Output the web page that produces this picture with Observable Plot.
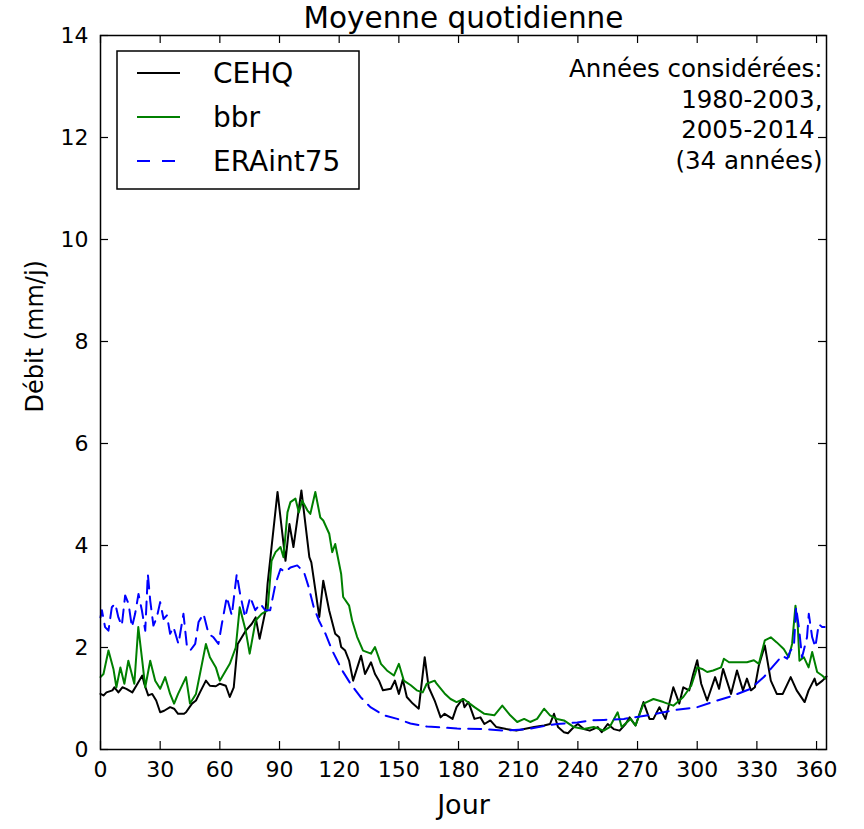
<!DOCTYPE html>
<html>
<head>
<meta charset="utf-8">
<script src="https://cdn.jsdelivr.net/npm/d3@7"></script>
<script src="https://cdn.jsdelivr.net/npm/@observablehq/plot@0.6"></script>
<style>
  html, body { margin: 0; padding: 0; background: white; }
  #chart { position: relative; width: 864px; height: 829px; }
</style>
</head>
<body>
<div id="chart"></div>
<script>
// ---- Data ----
const seriesNames = ["CEHQ", "bbr", "ERAint75"];
const seriesColors = ["#000000", "#008000", "#0000ff"];

const cehqDay = [0,1.5,3,6,7,9,11,13,16,18,21,22,24,26,28,30,32,35,37,39,42,43,46,48,50,53,55,58,60,63,65,67,69,73,76,78,80,83,84,86,89,93,95,97,101,105,106,110,112,115,118,120,121,123,125,127,131,133,136,138,140,142,146,148,150,152,154,157,160,163,165,168,171,173,177,179,182,183,185,188,191,193,196,199,204,209,213,218,223,226,228,230,233,235,238,240,243,246,250,252,255,258,261,264,266,269,273,276,278,281,284,288,291,293,296,298,300,302,305,309,311,313,317,320,323,325,327,329,331,334,337,340,343,347,350,354,356,359,360,363,365];
const cehqVal = [1.09,1.06,1.12,1.16,1.22,1.12,1.22,1.19,1.12,1.25,1.45,1.29,1.06,1.09,0.96,0.73,0.76,0.83,0.80,0.70,0.70,0.73,0.90,0.96,1.12,1.35,1.25,1.24,1.29,1.25,1.03,1.22,2.07,2.33,2.46,2.59,2.17,2.73,3.25,3.97,5.05,3.70,4.42,3.97,5.08,3.77,3.67,2.60,3.31,2.72,2.27,2.20,2.01,1.94,1.74,1.35,1.84,1.48,1.71,1.48,1.35,1.16,1.19,1.35,1.09,1.37,1.03,0.90,0.80,1.81,1.22,0.96,0.63,0.70,0.60,0.83,0.99,0.83,0.93,0.60,0.63,0.50,0.57,0.44,0.40,0.37,0.40,0.44,0.47,0.50,0.70,0.44,0.34,0.32,0.44,0.50,0.40,0.37,0.44,0.34,0.50,0.40,0.37,0.50,0.63,0.47,0.93,0.60,0.60,0.83,0.60,1.22,0.90,1.22,1.16,1.48,1.75,1.29,0.96,1.42,1.19,1.58,1.09,1.55,1.16,1.39,1.16,1.22,1.65,2.04,1.35,1.09,1.09,1.42,1.16,0.93,1.16,1.39,1.26,1.35,1.43];

const bbrDay = [0,1.5,4,6.5,8,10,12,14,17,19,21,22.5,25,27.5,30,32.5,35,37,39,43,45,48,50,53,55,58,60,63,65,68,70,73,75,78,81,84,86,88,90.5,92,94,95.5,98,99.7,101.4,104,105.5,108,110.5,112,115,116.5,118,121,122,125,126.5,129,132,136,138,141,144,147.5,150,152.5,156,159,162,164,168,169,173,176,179,182.6,188,193,198,202,206,209.5,213,216,219.5,223,226,229.5,233,238,243,248,253,256,260,262,266.5,269,273,278,283,288,293,297,300,302.5,305,308,312,313.4,316,320,325,328.5,331,334,337,340,343.5,346,347.7,349.4,350.5,351.4,353.6,356,357.8,360.3,362.8,364.5];
const bbrVal = [1.42,1.48,1.94,1.58,1.22,1.61,1.29,1.74,1.29,2.40,1.74,1.22,1.74,1.35,1.19,1.42,1.09,0.90,1.09,1.42,0.90,1.09,1.48,2.07,1.81,1.61,1.35,1.55,1.68,2.00,2.79,2.33,1.88,2.53,2.66,2.73,3.70,3.87,3.97,3.77,4.65,4.85,4.92,4.65,4.88,4.69,4.62,5.05,4.55,4.49,4.23,3.87,4.03,3.44,2.99,2.82,2.53,2.21,1.94,1.88,2.01,1.68,1.55,1.45,1.68,1.35,1.26,1.16,1.12,1.29,1.35,1.29,1.10,0.99,0.93,0.99,0.83,0.70,0.67,0.86,0.67,0.54,0.60,0.54,0.60,0.80,0.67,0.60,0.57,0.44,0.40,0.44,0.37,0.44,0.73,0.44,0.60,0.47,0.90,0.99,0.93,0.86,1.03,1.25,1.61,1.58,1.52,1.55,1.61,1.78,1.71,1.71,1.71,1.75,1.68,2.14,2.20,2.10,1.97,1.81,2.07,2.82,2.46,1.74,1.81,1.61,1.91,1.52,1.45,1.39];

const eraDay = [0,0.7,2.3,4,5.7,7.4,9,10.7,12.4,14.1,15.8,17.4,19.1,20.8,22.5,23.8,25,26.6,28.3,30,31.7,33.4,35,36.7,39.2,41.7,43.4,45.1,47.6,49.3,51.8,54.3,56.8,59.3,61,63.5,66,68.5,70.2,72.7,75.3,77.8,80.3,82.8,85.3,88,90.5,93,95.5,98.9,102.3,104.7,107.2,109.8,113.1,116.5,121.5,125.7,130.7,135.7,142.5,149.2,155.8,164.2,172.6,179.3,191.9,203.6,214.5,224.6,229.6,239.7,246.4,253.1,263.1,276.5,288.2,300,310,318.4,326.8,333.5,338.5,342.7,345.2,346.9,348.6,349.7,351.1,352.7,355.2,356.1,357.8,359.4,361.1,362.8,364.1];
const eraVal = [2.59,2.73,2.40,2.33,2.79,2.86,2.59,2.43,3.02,2.86,2.40,2.66,3.05,2.73,2.33,3.44,2.92,2.43,2.59,2.89,2.56,2.63,2.27,2.40,2.07,2.66,2.04,1.94,2.07,2.50,2.66,2.27,2.20,2.07,2.46,2.99,2.63,3.44,3.05,2.59,2.99,2.73,2.86,2.73,2.73,3.25,3.54,3.48,3.57,3.61,3.48,3.18,2.79,2.53,2.27,1.94,1.55,1.29,1.03,0.83,0.67,0.60,0.51,0.45,0.43,0.41,0.40,0.37,0.40,0.47,0.50,0.53,0.57,0.58,0.60,0.68,0.77,0.83,0.96,1.06,1.19,1.42,1.65,1.84,1.78,1.94,2.01,2.79,2.40,1.81,2.20,2.66,2.20,2.01,2.46,2.40,2.40];

const xTicks = [0,30,60,90,120,150,180,210,240,270,300,330,360];
const yTicks = [0,2,4,6,8,10,12,14];

const titleText = "Moyenne quotidienne";
const xLabel = "Jour";
const yLabel = "Débit (mm/j)";
const noteText = "Années considérées:\n1980-2003,\n2005-2014\u00a0\n(34 années)";

// ---- Build tables ----
const toRows = (days, vals) => days.map((d, i) => ({day: d, val: vals[i]}));
const cehq = toRows(cehqDay, cehqVal);
const bbr = toRows(bbrDay, bbrVal);
const era = toRows(eraDay, eraVal);

const FONT = "DejaVu Sans";
const dash = "13,8";
const LW = 2;

const svg = Plot.plot({
  width: 864,
  height: 829,
  marginLeft: 100,
  marginRight: 38,
  marginTop: 35,
  marginBottom: 80,
  style: {fontFamily: FONT, background: "white", color: "black", overflow: "visible"},
  x: {domain: [0, 365]},
  y: {domain: [0, 14]},
  marks: [
    Plot.line(cehq, {x: "day", y: "val", stroke: seriesColors[0], strokeWidth: LW}),
    Plot.line(bbr, {x: "day", y: "val", stroke: seriesColors[1], strokeWidth: LW}),
    Plot.line(era, {x: "day", y: "val", stroke: seriesColors[2], strokeWidth: LW, strokeDasharray: dash}),
    // inward ticks on all four sides
    Plot.ruleX(xTicks, {stroke: "black", strokeWidth: 1.2, insetTop: 706}),
    Plot.ruleX(xTicks, {stroke: "black", strokeWidth: 1.2, insetBottom: 706}),
    Plot.ruleY(yTicks, {stroke: "black", strokeWidth: 1.2, insetRight: 718}),
    Plot.ruleY(yTicks, {stroke: "black", strokeWidth: 1.2, insetLeft: 718}),
    Plot.axisX({ticks: xTicks, tickSize: 0, tickPadding: 12, fontSize: 22, label: null}),
    Plot.axisY({ticks: yTicks, tickSize: 0, tickPadding: 12, fontSize: 22, label: null}),
    Plot.frame({stroke: "black", strokeWidth: 1.5}),
    Plot.text([titleText], {frameAnchor: "top", dy: -8, lineAnchor: "bottom", fontSize: 29.5, fill: "black"}),
    Plot.text([xLabel], {frameAnchor: "bottom", dy: 56, lineAnchor: "middle", fontSize: 27, fill: "black"}),
    Plot.text([yLabel], {frameAnchor: "left", dx: -65, dy: 20, rotate: -90, lineAnchor: "middle", fontSize: 24, fill: "black"}),
    Plot.text([noteText], {frameAnchor: "top-right", dx: -4, dy: 20, textAnchor: "end", lineAnchor: "top", fontSize: 24.5, lineHeight: 1.25, fill: "black"})
  ]
});

document.getElementById("chart").appendChild(svg);

// ---- Legend (box drawn inside the plot area, upper left) ----
const lg = d3.select(svg).append("g")
  .attr("font-family", FONT)
  .attr("text-anchor", "start");
lg.append("rect")
  .attr("x", 117).attr("y", 51).attr("width", 242).attr("height", 138)
  .attr("fill", "white").attr("stroke", "black").attr("stroke-width", 1.5);
seriesNames.forEach((name, i) => {
  const cy = 73 + i * 44;
  lg.append("line")
    .attr("x1", 137).attr("x2", 180).attr("y1", cy).attr("y2", cy)
    .attr("stroke", seriesColors[i]).attr("stroke-width", LW)
    .attr("stroke-dasharray", i === 2 ? "13,12" : null);
  lg.append("text")
    .attr("x", 213).attr("y", cy).attr("dy", "0.36em")
    .attr("text-anchor", "start")
    .attr("font-size", 28).attr("fill", "black").text(name);
});
</script>
</body>
</html>
